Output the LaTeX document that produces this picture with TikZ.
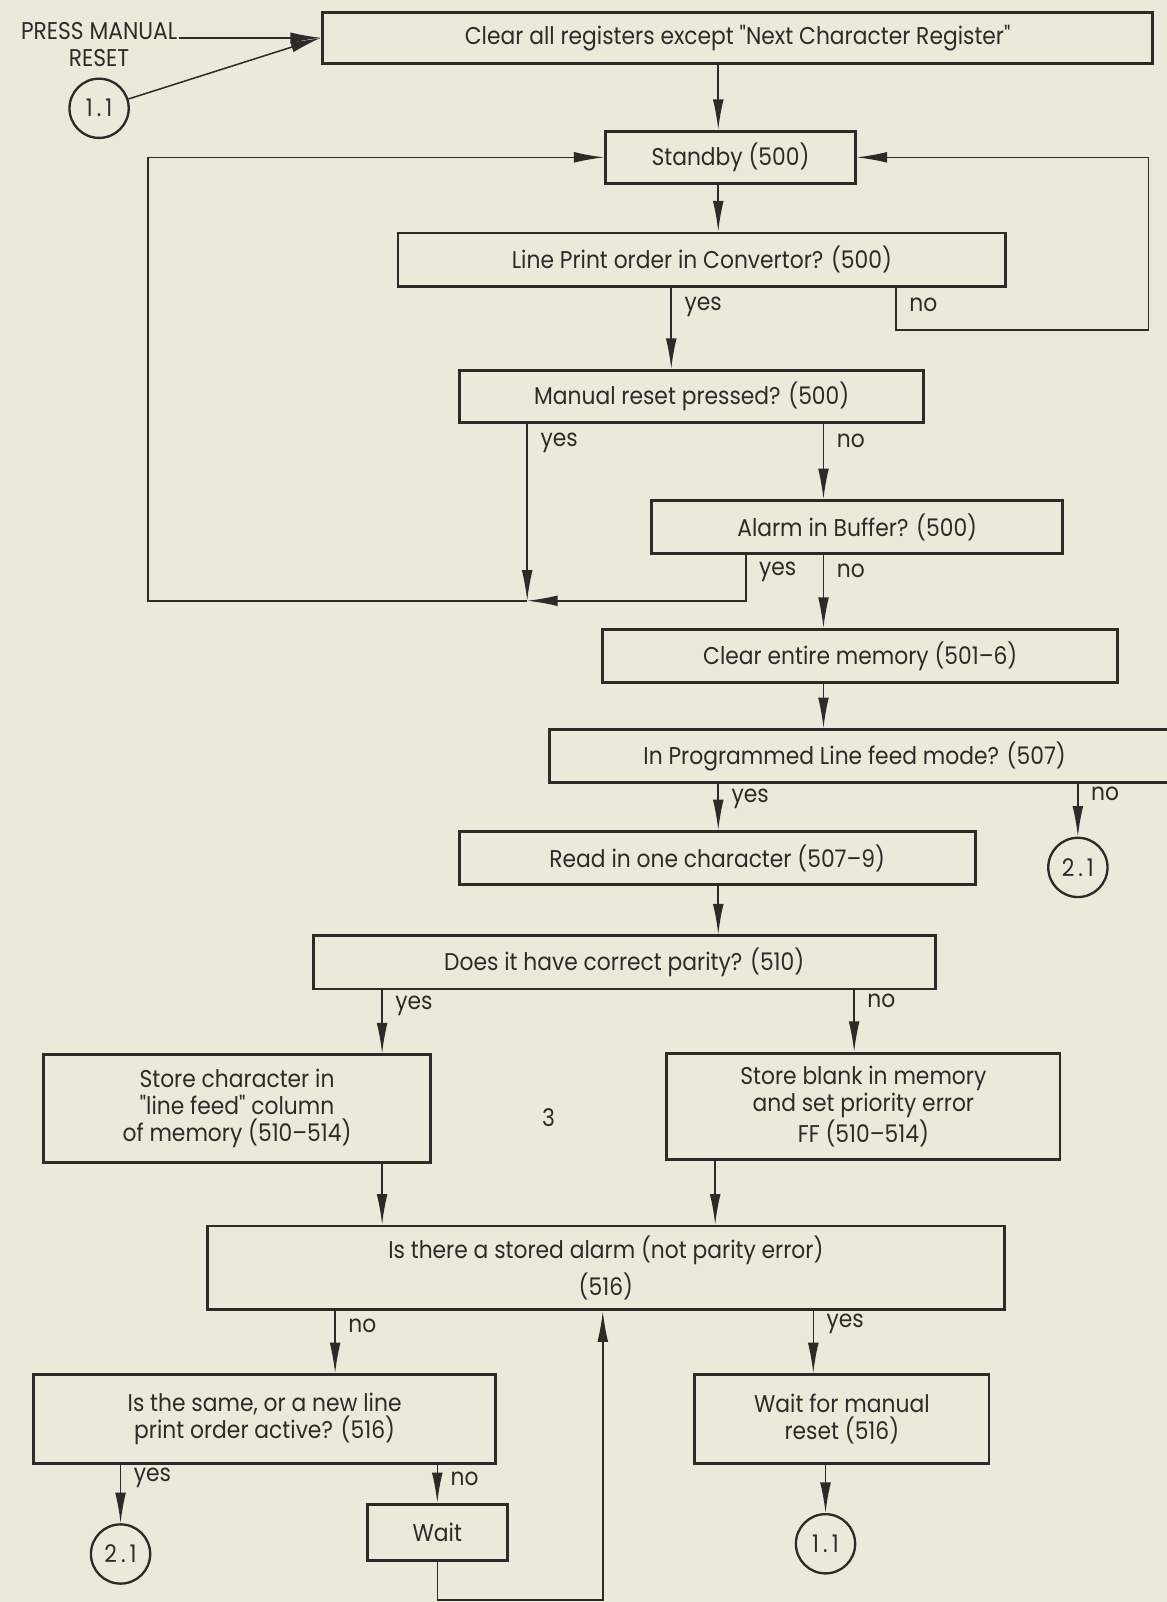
\documentclass[tikz,border=0pt]{standalone}
\usepackage{fontspec}
\newfontfamily\chartfont{Poppins}[FakeStretch=0.9]
\usetikzlibrary{arrows.meta,positioning,calc}
\definecolor{paper}{RGB}{235,233,218}
\definecolor{ink}{RGB}{44,43,40}

\begin{document}
\begin{tikzpicture}[x=0.02cm, y=-0.02cm, >={Latex[length=17pt,width=6pt]},
    every node/.style={text=ink, font=\chartfont\fontsize{13.5}{15}\selectfont},
    box/.style={draw=ink, line width=1.6pt, rectangle, align=center, inner sep=2pt},
    link/.style={draw=ink, line width=0.85pt},
    conn/.style={draw=ink, line width=1.3pt, circle, minimum size=1.16cm, inner sep=0pt},
    yn/.style={right=7pt, inner sep=0pt}]
\path[use as bounding box, fill=paper] (0,0) rectangle (1142,1568);

% columns the connectors run along
\coordinate (cA) at (703,0);
\coordinate (cB) at (657,0);
\coordinate (cC) at (877,0);
\coordinate (cD) at (516,0);
\coordinate (cE) at (806,0);
\coordinate (cF) at (730,0);
\coordinate (cG) at (1055,0);
\coordinate (cH) at (374,0);
\coordinate (cI) at (836,0);
\coordinate (cJ) at (700,0);
\coordinate (cK) at (328,0);
\coordinate (cL) at (796,0);
\coordinate (cN) at (118,0);
\coordinate (cO) at (428,0);
\coordinate (cP) at (808,0);
% corners of the loops
\coordinate (lj)    at (516,588);
\coordinate (lcol)  at (145,370);
\coordinate (rloop) at (1124,323);
\coordinate (wl)    at (590,1566);

% boxes
\node[box, minimum width=16.26cm, minimum height=1cm]    (clear)      at (722,37)   {Clear all registers except "Next Character Register"};
\node[box, minimum width=4.88cm,  minimum height=1.02cm] (standby)    at (715,154)  {Standby (500)};
\node[box, minimum width=11.9cm,  minimum height=1.04cm] (lineprint)  at (687,254)  {Line Print order in Convertor? (500)};
\node[box, minimum width=9.08cm,  minimum height=1.02cm] (manual)     at (677,388)  {Manual reset pressed? (500)};
\node[box, minimum width=8.04cm,  minimum height=1.04cm] (alarm)      at (839,516)  {Alarm in Buffer? (500)};
\node[box, minimum width=10.08cm, minimum height=1.04cm] (clearmem)   at (842,642)  {Clear entire memory (501–6)};
\node[box, minimum width=12.44cm, minimum height=1.04cm] (inprog)     at (849,740)  {In Programmed Line feed mode? (507)\hspace{0.5cm}};
\node[box, minimum width=10.1cm,  minimum height=1.04cm] (readin)     at (702,840)  {Read in one character (507–9)};
\node[box, minimum width=12.18cm, minimum height=1.04cm] (parity)     at (611,942)  {Does it have correct parity? (510)};
\node[box, minimum width=7.58cm,  minimum height=2.1cm]  (storechar)  at (232,1085) {Store character in\\"line feed" column\\of memory (510–514)};
\node[box, minimum width=7.7cm,   minimum height=2.08cm] (storeblank) at (845,1083) {Store blank in memory\\and set priority error\\FF (510–514)};
\node[box, minimum width=15.6cm,  minimum height=1.64cm] (stored)     at (593,1241) {Is there a stored alarm (not parity error)\\[4pt](516)};
\node[box, minimum width=9.04cm,  minimum height=1.74cm] (same)       at (259,1389) {Is the same, or a new line\\print order active? (516)};
\node[box, minimum width=5.76cm,  minimum height=1.74cm] (waitman)    at (824,1389) {Wait for manual\\reset (516)};
\node[box, minimum width=2.74cm,  minimum height=1.1cm]  (wait)       at (428,1500) {Wait};

% connectors to other sheets
\node[conn] (c11a) at (97,106)   {1\,.\,1};
\node[conn] (c21a) at (1055,849) {2\,.\,1};
\node[conn] (c21b) at (118,1521) {2\,.\,1};
\node[conn] (c11b) at (808,1511) {1\,.\,1};

\node[align=center, inner sep=1pt] (press) at (97,44) {PRESS MANUAL\\RESET};
\node (three) at (537,1094) {3};

% flow
\draw[link,->] (press.east |- clear.west) -- (clear.west);
\draw[link,->] (c11a) -- (clear.west);
\draw[link,->] (clear.south -| cA) -- (standby.north -| cA);
\draw[link,->] (standby.south -| cA) -- (lineprint.north -| cA);
\draw[link,->] (lineprint.south -| cB) -- node[yn, pos=.24] (lpyes) {yes} (manual.north -| cB);
\draw[link,->] (lineprint.south -| cC) -- node[yn, pos=.4] (lpno) {no} (cC |- rloop) -- (rloop) |- (standby.east);
\draw[link,->] (manual.south -| cD) -- node[yn, pos=.11] (mayes) {yes} (lj);
\draw[link,->] (manual.south -| cE) -- node[yn, pos=.22] (mano) {no} (alarm.north -| cE);
\draw[link,->] (alarm.south -| cF) -- node[yn, pos=.37] (alyes) {yes} (cF |- lj) -- (lj);
\draw[link,->] (alarm.south -| cE) -- node[yn, pos=.22] (alno) {no} (clearmem.north -| cE);
\draw[link,->] (lj) -| (lcol) |- (standby.west);
\draw[link,->] (clearmem.south -| cE) -- (inprog.north -| cE);
\draw[link,->] (inprog.south -| cA) -- node[yn, pos=.33] (ipyes) {yes} (readin.north -| cA);
\draw[link,->] (inprog.south -| cG) -- node[yn, pos=.18] (ipno) {no} (c21a);
\draw[link,->] (readin.south -| cA) -- (parity.north -| cA);
\draw[link,->] (parity.south -| cH) -- node[yn, pos=.25] (pyes) {yes} (storechar.north -| cH);
\draw[link,->] (parity.south -| cI) -- node[yn, pos=.17] (pno) {no} (storeblank.north -| cI);
\draw[link,->] (storechar.south -| cH) -- (stored.north -| cH);
\draw[link,->] (storeblank.south -| cJ) -- (stored.north -| cJ);
\draw[link,->] (stored.south -| cK) -- node[yn, pos=.23] (sno) {no} (same.north -| cK);
\draw[link,->] (stored.south -| cL) -- node[yn, pos=.2] (syes) {yes} (waitman.north -| cL);
\draw[link,->] (same.south -| cN) -- node[yn, pos=.22] (smyes) {yes} (c21b);
\draw[link,->] (same.south -| cO) -- node[yn, pos=.36] (smno) {no} (wait.north -| cO);
\draw[link,->] (wait.south) |- (wl) -- (stored.south -| wl);
\draw[link,->] (waitman.south -| cP) -- (c11b);
\end{tikzpicture}
\end{document}
